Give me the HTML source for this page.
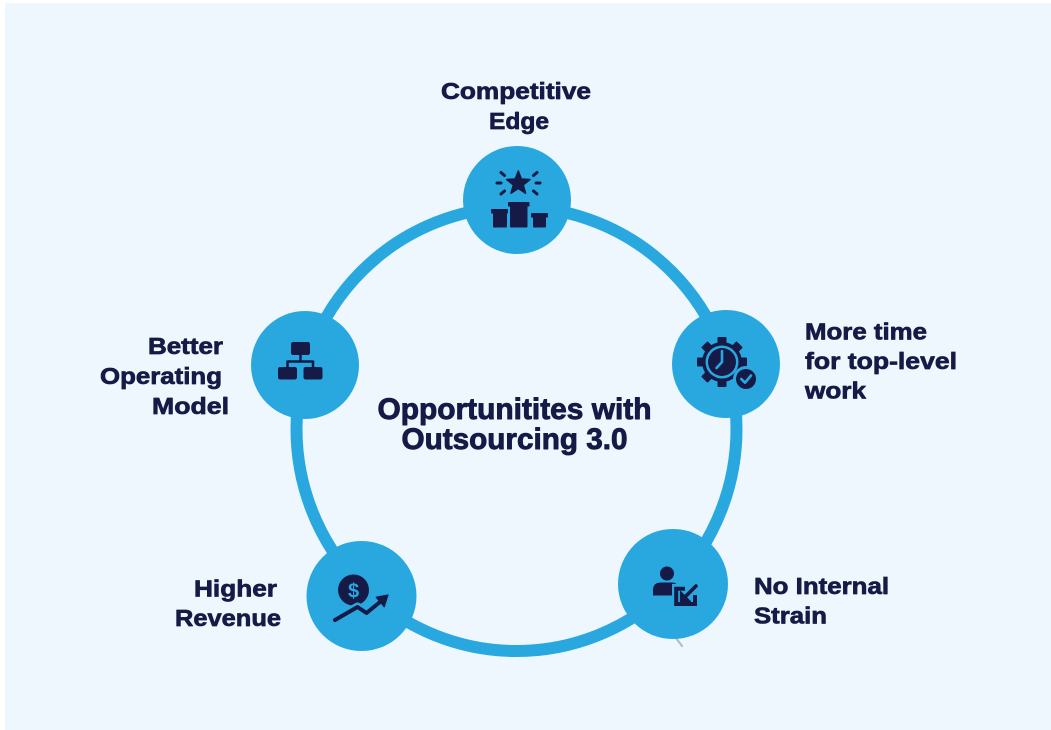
<!DOCTYPE html>
<html>
<head>
<meta charset="utf-8">
<style>
  html,body{margin:0;padding:0;background:#ffffff;}
  body{width:1051px;height:730px;overflow:hidden;}
  svg{display:block;}
  .t{font-family:"Liberation Sans",Arial,sans-serif;font-weight:bold;fill:#151a46;stroke:#151a46;stroke-linejoin:round;}
</style>
</head>
<body>
<svg width="1051" height="730" viewBox="0 0 1051 730" xmlns="http://www.w3.org/2000/svg">
  <rect x="0" y="0" width="1051" height="730" fill="#ffffff"/>
  <rect x="5" y="3" width="1046" height="727" fill="#eef7fe"/>

  <!-- ring -->
  <ellipse cx="516.5" cy="429" rx="220" ry="222" fill="none" stroke="#29a8e0" stroke-width="12"/>

  <!-- small gray tick -->
  <line x1="676" y1="638" x2="682" y2="646" stroke="#b4bcc4" stroke-width="2.2" stroke-linecap="round"/>

  <!-- nodes -->
  <circle cx="517" cy="200" r="54" fill="#29a8e0"/>
  <circle cx="726" cy="364" r="54" fill="#29a8e0"/>
  <circle cx="673" cy="584" r="55" fill="#29a8e0"/>
  <circle cx="361.5" cy="596" r="55" fill="#29a8e0"/>
  <circle cx="305" cy="365" r="54" fill="#29a8e0"/>

  <!-- TOP ICON: podium + star -->
  <g fill="#151a46">
    <path d="M518.3,171 L521.4,179 L530,179.5 L523.3,184.9 L525.6,193.2 L518.3,188.5 L511,193.2 L513.3,184.9 L506.6,179.5 L515.2,179 Z" stroke="#151a46" stroke-width="1.5" stroke-linejoin="round"/>
    <rect x="508" y="202" width="21.5" height="4.5" rx="0.8"/>
    <rect x="510" y="204" width="17.5" height="23.5" rx="1"/>
    <rect x="491" y="209" width="17" height="4.5" rx="0.8"/>
    <rect x="493" y="211" width="14" height="16.5" rx="1"/>
    <rect x="531" y="213" width="17" height="4.5" rx="0.8"/>
    <rect x="533" y="215" width="13" height="12.5" rx="1"/>
  </g>
  <g stroke="#151a46" stroke-width="3" stroke-linecap="round">
    <line x1="497" y1="183" x2="501" y2="183"/>
    <line x1="501" y1="172.5" x2="504.5" y2="175.5"/>
    <line x1="501" y1="194" x2="504.5" y2="191"/>
    <line x1="536" y1="183" x2="540" y2="183"/>
    <line x1="537" y1="172.5" x2="533.5" y2="175.5"/>
    <line x1="537" y1="194" x2="533.5" y2="191"/>
  </g>

  <!-- RIGHT-TOP ICON: gear clock + check -->
  <g transform="translate(722,362)">
    <g fill="#151a46">
      <rect x="-4.5" y="-25" width="9" height="50" rx="1"/>
      <rect x="-4.5" y="-25" width="9" height="50" rx="1" transform="rotate(45)"/>
      <rect x="-4.5" y="-25" width="9" height="50" rx="1" transform="rotate(90)"/>
      <rect x="-4.5" y="-25" width="9" height="50" rx="1" transform="rotate(135)"/>
      <circle cx="0" cy="0" r="20"/>
    </g>
    <circle cx="0" cy="0" r="16.5" fill="#29a8e0"/>
    <circle cx="0" cy="0" r="14" fill="#151a46"/>
    <path d="M0,-11 L0,0 L-5.5,6" fill="none" stroke="#29a8e0" stroke-width="2.6" stroke-linecap="round" stroke-linejoin="round"/>
  </g>
  <circle cx="746" cy="379" r="13" fill="#29a8e0"/>
  <circle cx="746" cy="379" r="10" fill="#151a46"/>
  <path d="M741.3,379 L745,382.7 L751,375.5" fill="none" stroke="#29a8e0" stroke-width="2.6" stroke-linecap="round" stroke-linejoin="round"/>

  <!-- BOTTOM-RIGHT ICON: person + sign-in box -->
  <g fill="#151a46">
    <circle cx="667" cy="573.5" r="7"/>
    <path d="M653,595.5 L653,590 Q653,582.5 661,582.5 L672,582.5 Q676,582.5 677,585 L677,595.5 Z"/>
  </g>
  <rect x="672" y="584" width="28" height="25" fill="#29a8e0"/>
  <path d="M685,588.7 L676.2,588.7 L676.2,604 L695,604 L695,595" fill="none" stroke="#151a46" stroke-width="4"/>
  <line x1="696" y1="586" x2="685" y2="597" stroke="#151a46" stroke-width="3.6" stroke-linecap="round"/>
  <path d="M680.5,591.5 L680.5,601.5 L690.5,601.5 Z" fill="#151a46" stroke="#151a46" stroke-width="1.2" stroke-linejoin="round"/>

  <!-- BOTTOM-LEFT ICON: coin + rising arrow -->
  <circle cx="353.5" cy="590" r="15.5" fill="#151a46"/>
  <text x="353.5" y="597.5" text-anchor="middle" font-family="Liberation Sans, Arial, sans-serif" font-weight="bold" font-size="20" fill="#29a8e0">$</text>
  <polyline points="335,620 357.5,607 366.5,613 380,602" fill="none" stroke="#29a8e0" stroke-width="9" stroke-linecap="round" stroke-linejoin="round"/>
  <polyline points="335,620 357.5,607 366.5,613 380,602" fill="none" stroke="#151a46" stroke-width="4" stroke-linecap="round" stroke-linejoin="round"/>
  <path d="M388,595 L384.2,606.8 L376.2,597.2 Z" fill="#151a46" stroke="#151a46" stroke-width="1.2" stroke-linejoin="round"/>

  <!-- LEFT ICON: hierarchy -->
  <g fill="#151a46">
    <rect x="291" y="342" width="19" height="13" rx="2.2"/>
    <rect x="278" y="367" width="19" height="12.5" rx="2.2"/>
    <rect x="303.5" y="367" width="19" height="12.5" rx="2.2"/>
  </g>
  <path d="M300.5,354 V361.5 M287.5,361.5 H313 M287.5,360.5 V368 M313,360.5 V368" fill="none" stroke="#151a46" stroke-width="2.5"/>

  <!-- LABELS -->
  <g class="t" font-size="23" stroke-width="0.7">
    <text x="441" y="99" textLength="150" lengthAdjust="spacingAndGlyphs">Competitive</text>
    <text x="489" y="129" textLength="60" lengthAdjust="spacingAndGlyphs">Edge</text>

    <text x="805" y="339.5" textLength="122" lengthAdjust="spacingAndGlyphs">More time</text>
    <text x="805" y="369" textLength="152" lengthAdjust="spacingAndGlyphs">for top-level</text>
    <text x="805" y="398.5" textLength="61" lengthAdjust="spacingAndGlyphs">work</text>

    <text x="754" y="594" textLength="135" lengthAdjust="spacingAndGlyphs">No Internal</text>
    <text x="754" y="623.5" textLength="73" lengthAdjust="spacingAndGlyphs">Strain</text>

    <text x="194" y="596.5" textLength="83" lengthAdjust="spacingAndGlyphs">Higher</text>
    <text x="175" y="626" textLength="106" lengthAdjust="spacingAndGlyphs">Revenue</text>

    <text x="148" y="354" textLength="75" lengthAdjust="spacingAndGlyphs">Better</text>
    <text x="100" y="384" textLength="122" lengthAdjust="spacingAndGlyphs">Operating</text>
    <text x="152" y="414" textLength="77" lengthAdjust="spacingAndGlyphs">Model</text>
  </g>

  <g class="t" font-size="30" stroke-width="0.9">
    <text x="377.5" y="419" textLength="274" lengthAdjust="spacingAndGlyphs">Opportunitites with</text>
    <text x="401.5" y="449" textLength="226" lengthAdjust="spacingAndGlyphs">Outsourcing 3.0</text>
  </g>
</svg>
</body>
</html>
